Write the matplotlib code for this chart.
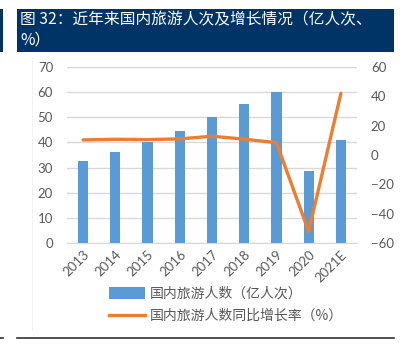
import matplotlib
matplotlib.use("Agg")
import matplotlib.pyplot as plt
from matplotlib.patches import Rectangle
from matplotlib.lines import Line2D

plt.rcParams['font.family'] = ['Noto Sans CJK SC', 'DejaVu Sans']

years = ['2013', '2014', '2015', '2016', '2017', '2018', '2019', '2020', '2021E']
trips = [32.6, 36.1, 40.0, 44.4, 50.0, 55.4, 60.1, 28.8, 41.0]
growth = [10.3, 10.7, 10.5, 11.0, 12.8, 10.8, 8.4, -52.1, 42.0]
left_ticks = [0, 10, 20, 30, 40, 50, 60, 70]
right_ticks = [-60, -40, -20, 0, 20, 40, 60]
title_line1 = '图 32：近年来国内旅游人次及增长情况（亿人次、'
title_line2 = '%）'
bar_label = '国内旅游人数（亿人次）'
line_label = '国内旅游人数同比增长率（%）'

W, H = 413, 361
fig = plt.figure(figsize=(W / 100, H / 100), dpi=100)
fig.patch.set_facecolor('white')

navy = '#003366'
# title box
fig.patches.append(Rectangle((17 / W, 1 - 52 / H), (394 - 17) / W, 43 / H,
                             transform=fig.transFigure, facecolor=navy, edgecolor='none'))
fig.patches.append(Rectangle((0, 1 - 52 / H), 3 / W, 43 / H,
                             transform=fig.transFigure, facecolor=navy, edgecolor='none'))
fig.text(20 / W, 1 - 20 / H, title_line1, color='white',
         fontsize=11.3, va='center', ha='left')
fig.text(20 / W, 1 - 40 / H, title_line2, color='white', fontsize=11.3, va='center', ha='left')

# bottom rule
fig.lines.append(Line2D([17 / W, 394 / W], [1 - 338 / H, 1 - 338 / H],
                        transform=fig.transFigure, color='#333333', lw=1.2))
fig.lines.append(Line2D([0, 3 / W], [1 - 338 / H, 1 - 338 / H],
                        transform=fig.transFigure, color='#333333', lw=1.2))
# faint chart border line
fig.lines.append(Line2D([32 / W, 32 / W], [1 - 330 / H, 1 - 58 / H],
                        transform=fig.transFigure, color='#F2F2F2', lw=0.8))

num_font = ['Lato', 'DejaVu Sans']

ax = fig.add_axes([67 / W, 1 - 243 / H, (357 - 67) / W, (243 - 67) / H])
x = list(range(len(years)))
ax.bar(x, trips, width=0.32, color='#5B9BD5', zorder=2)
ax.set_ylim(0, 70)
ax.set_yticks(left_ticks)
ax.set_xlim(-0.5, len(years) - 0.5)
ax.set_xticks(x)
ax.set_xticklabels(years, rotation=45, ha='right', rotation_mode='anchor')
ax.grid(axis='y', color='#D9D9D9', lw=1, zorder=0)
ax.set_axisbelow(True)
for s in ax.spines.values():
    s.set_visible(False)
ax.spines['bottom'].set_visible(True)
ax.spines['bottom'].set_color('#D9D9D9')
ax.tick_params(axis='both', length=0, colors='#595959', labelsize=9.5)
ax.tick_params(axis='y', pad=10)
ax.tick_params(axis='x', pad=4)
for lab in ax.get_xticklabels() + ax.get_yticklabels():
    lab.set_family(num_font)

ax2 = ax.twinx()
ax2.plot(x, growth, color='#ED7D31', lw=2.4, solid_capstyle='round', zorder=3)
ax2.set_ylim(-60, 60)
ax2.set_yticks(right_ticks)
for s in ax2.spines.values():
    s.set_visible(False)
ax2.tick_params(axis='y', length=0, colors='#595959', labelsize=9.5, pad=10)
for lab in ax2.get_yticklabels():
    lab.set_family(num_font)

# legend
handles = [Rectangle((0, 0), 1, 1, facecolor='#5B9BD5'),
           Line2D([0], [0], color='#ED7D31', lw=2.4)]
leg = fig.legend(handles, [bar_label, line_label], loc='upper left',
                 bbox_to_anchor=(103 / W, 1 - 281 / H), frameon=False,
                 fontsize=10, labelcolor='#595959', handlelength=2.6,
                 handleheight=0.9, labelspacing=0.6, handletextpad=0.4,
                 borderaxespad=0)

fig.savefig('out.png', dpi=100)
